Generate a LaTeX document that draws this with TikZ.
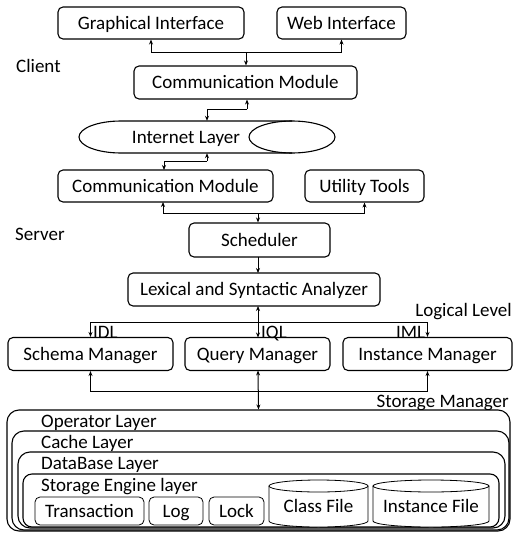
\documentclass[tikz,border=0pt]{standalone}
\usepackage{fontspec}
\setmainfont{Carlito}
\usetikzlibrary{arrows.meta}
\begin{document}
\begin{tikzpicture}[x=1pt,y=-1pt,
  every node/.style={font=\fontsize{19}{20}\selectfont, inner sep=0pt, text height=12pt, text depth=0pt},
  box/.style={draw, line width=1.1pt, rounded corners=5pt, fill=white},
  layer/.style={draw, line width=1.1pt, rounded corners=12pt, fill=white},
  sbox/.style={draw, line width=0.8pt, rounded corners=5pt, fill=white},
  conn/.style={line width=1pt},
  arr/.style={conn, -{Stealth[length=5pt,width=4pt]}},
  darr/.style={conn, {Stealth[length=5pt,width=4pt]}-{Stealth[length=5pt,width=4pt]}},
  lbl/.style={}
]
\useasboundingbox (0,0) rectangle (519,533);

% Client
\node[box, minimum width=186pt, minimum height=32pt] (gi) at (151,23) {Graphical Interface};
\node[box, minimum width=129pt, minimum height=32pt] (wi) at (341.5,23) {Web Interface};
\node[lbl, anchor=west] (client) at (16,66) {Client};
\node[box, minimum width=223pt, minimum height=33pt] (cc) at (245.5,82.5) {Communication Module};

% Internet layer
\node[minimum width=256pt, minimum height=32pt] (il) at (207,137) {};
\draw[line width=1.1pt] (292,121) -- (121,121)
  arc[start angle=90, end angle=270, x radius=42pt, y radius=16pt] -- (292,153);
\draw[line width=1.1pt] (292,137) ellipse [x radius=43pt, y radius=16pt];
\node (ilt) at (186,137) {Internet Layer};

% Server
\node[box, minimum width=215pt, minimum height=32pt] (sc) at (165.5,186) {Communication Module};
\node[box, minimum width=119pt, minimum height=32pt] (ut) at (364.5,186) {Utility Tools};
\node[lbl, anchor=west] (server) at (15,234) {Server};
\node[box, minimum width=141pt, minimum height=34pt] (sch) at (259.5,240) {Scheduler};
\node[box, minimum width=252pt, minimum height=33pt] (lex) at (254,289.5) {Lexical and Syntactic Analyzer};
\node[lbl, anchor=east] (logic) at (512,310) {Logical Level};

\node[box, minimum width=165pt, minimum height=33pt] (sm) at (90.5,354) {Schema Manager};
\node[box, minimum width=145pt, minimum height=33pt] (qm) at (257.5,354) {Query Manager};
\node[box, minimum width=169pt, minimum height=33pt] (im) at (427.5,354) {Instance Manager};
\node[lbl, anchor=west] (idl) at (93,332) {IDL};
\node[lbl, anchor=west] (iql) at (261,332) {IQL};
\node[lbl, anchor=west] (iml) at (396,332) {IML};
\node[lbl, anchor=east] (stm) at (509,401) {Storage Manager};

% Storage layers
\node[layer, minimum width=503pt, minimum height=121pt] (op) at (258.5,470.5) {};
\node[layer, minimum width=497pt, minimum height=99pt] (ca) at (260.5,480.5) {};
\node[layer, minimum width=487pt, minimum height=76pt] (db) at (261.5,490) {};
\node[layer, rounded corners=9pt, minimum width=476pt, minimum height=53pt] (se) at (261,500.5) {};
\node[anchor=west] (opt) at (41,421) {Operator Layer};
\node[anchor=west] (cat) at (41,442) {Cache Layer};
\node[anchor=west] (dbt) at (41,463) {DataBase Layer};
\node[anchor=west] (set) at (41,485) {Storage Engine layer};

\node[sbox, minimum width=109pt, minimum height=28pt] (tr) at (89.5,511) {Transaction};
\node[sbox, minimum width=54pt, minimum height=28pt] (log) at (176,511) {Log};
\node[sbox, minimum width=55pt, minimum height=28pt] (lock) at (236.5,511) {Lock};

% cylinders
\draw[line width=0.8pt, fill=white] (269,486) -- (269,521) arc[start angle=180, end angle=360, x radius=49.5pt, y radius=6pt] -- (368,486);
\draw[line width=0.8pt, fill=white] (318.5,486) ellipse [x radius=49.5pt, y radius=6pt];
\node (cf) at (318.5,506) {Class File};
\draw[line width=0.8pt, fill=white] (373,486) -- (373,521) arc[start angle=180, end angle=360, x radius=58pt, y radius=6pt] -- (489,486);
\draw[line width=0.8pt, fill=white] (431,486) ellipse [x radius=58pt, y radius=6pt];
\node (if) at (431,506) {Instance File};

% connectors
\coordinate (j1) at (246,52);
\draw[arr] (j1) -| (gi.south);
\draw[arr] (j1) -| (wi.south);
\draw[arr] (j1) -- (j1 |- cc.north);

\coordinate (j2) at (247,109);
\draw[arr] (j2) -- (j2 |- cc.south);
\draw[arr] (j2) -| (il.north);

\coordinate (j2b) at (207,161);
\draw[arr] (j2b) -- (il.south);
\draw[arr] (j2b) -| (164,170);

\coordinate (j3) at (258,213);
\draw[arr] (j3) -| (163,202);
\draw[arr] (j3) -| (ut.south);
\draw[arr] (j3) -- (j3 |- sch.north);
\draw[arr] (258,257) -- (258,273);

\draw[darr] (258,306) -- (258,337.5);
\coordinate (j4) at (258,322);
\draw[arr] (j4) -| (sm.north);
\draw[arr] (j4) -| (im.north);

\coordinate (j5) at (258,391);
\draw[arr] (j5) -| (sm.south);
\draw[arr] (j5) -| (im.south);
\draw[darr] (258,370.5) -- (op.north);
\end{tikzpicture}
\end{document}
